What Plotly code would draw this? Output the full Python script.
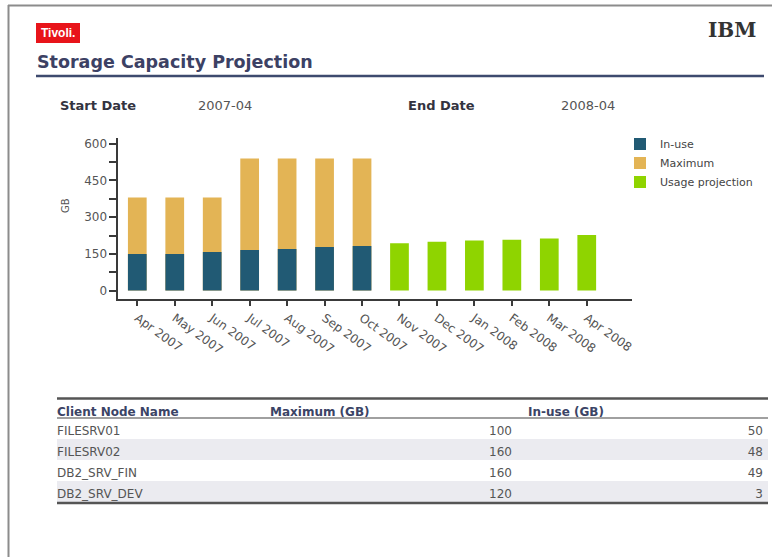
import plotly.graph_objects as go

# ---------------- data ----------------
MONTHS = ["Apr 2007", "May 2007", "Jun 2007", "Jul 2007", "Aug 2007", "Sep 2007",
          "Oct 2007", "Nov 2007", "Dec 2007", "Jan 2008", "Feb 2008", "Mar 2008",
          "Apr 2008"]
ACTUAL_MONTHS = MONTHS[:7]
PROJ_MONTHS = MONTHS[7:]
IN_USE = [150, 150, 158, 166, 170, 178, 182]
MAXIMUM = [380, 380, 380, 540, 540, 540, 540]
PROJECTION = [193, 200, 205, 208, 213, 227]
Y_TICKVALS = [0, 75, 150, 225, 300, 375, 450, 525, 600]
Y_TICKTEXT = ["0", "", "150", "", "300", "", "450", "", "600"]

TABLE_HEADERS = ["Client Node Name", "Maximum (GB)", "In-use (GB)"]
NODE_NAMES = ["FILESRV01", "FILESRV02", "DB2_SRV_FIN", "DB2_SRV_DEV"]
NODE_MAX = [100, 160, 160, 120]
NODE_INUSE = [50, 48, 49, 3]

TITLE = "Storage Capacity Projection"
START_LABEL, START_DATE = "Start Date", "2007-04"
END_LABEL, END_DATE = "End Date", "2008-04"

# ---------------- layout helpers ----------------
W, H = 779, 557


def px(x):
    return x / W


def py(y):
    return 1 - y / H


FONT = "DejaVu Sans"
AXIS_COL = "#3a3a3a"
XR = [-0.523, 13.2]
YR = [-33, 622]

fig = go.Figure()
fig.add_trace(go.Bar(x=ACTUAL_MONTHS, y=MAXIMUM, name="Maximum", width=0.5,
                     marker=dict(color="#E3B455", line=dict(width=0)), legendrank=2))
fig.add_trace(go.Bar(x=ACTUAL_MONTHS, y=IN_USE, name="In-use", width=0.5,
                     marker=dict(color="#215A74", line=dict(width=0)), legendrank=1))
fig.add_trace(go.Bar(x=PROJ_MONTHS, y=PROJECTION, name="Usage projection", width=0.5,
                     marker=dict(color="#8FD400", line=dict(width=0)), legendrank=3))

# table geometry (pixels)
T_TOP, HDR_H, ROW_H = 399, 19, 21
T_LEFT, T_RIGHT = 57, 768
n_rows = len(NODE_NAMES)
T_BOTTOM = T_TOP + HDR_H + ROW_H * n_rows

fig.add_trace(go.Table(
    domain=dict(x=[px(49), px(771)], y=[py(T_BOTTOM + 1), py(T_TOP)]),
    columnwidth=[213, 258, 251],
    header=dict(values=TABLE_HEADERS, align=["left", "left", "left"],
                font=dict(family=FONT, size=12, color="#3B4466", weight="bold"),
                fill_color="rgba(0,0,0,0)", line=dict(width=0), height=HDR_H),
    cells=dict(values=[NODE_NAMES, NODE_MAX, NODE_INUSE],
               align=["left", "right", "right"],
               font=dict(family=FONT, size=12, color="#555555"),
               fill_color="rgba(0,0,0,0)", line=dict(width=0), height=ROW_H),
))

fig.update_layout(
    width=W, height=H,
    margin=dict(l=0, r=0, t=0, b=0),
    paper_bgcolor="white", plot_bgcolor="white",
    barmode="overlay",
    showlegend=True,
    legend=dict(x=px(620), y=py(129.5), xanchor="left", yanchor="top",
                font=dict(family=FONT, size=11, color="#444444"),
                bgcolor="rgba(0,0,0,0)", traceorder="normal"),
    xaxis=dict(domain=[px(117.7), px(631.7)], anchor="y", type="category",
               categoryorder="array", categoryarray=MONTHS, range=XR,
               showline=True, linecolor=AXIS_COL, linewidth=1.5,
               ticks="outside", ticklen=6, tickwidth=1.5, tickcolor=AXIS_COL,
               tickangle=36, tickfont=dict(family=FONT, size=12, color="#555555"),
               showgrid=False, zeroline=False, automargin=False, fixedrange=True),
    yaxis=dict(domain=[py(298.7), py(138.3)], anchor="x", range=YR,
               tickmode="array", tickvals=Y_TICKVALS, ticktext=Y_TICKTEXT,
               showline=True, linecolor=AXIS_COL, linewidth=1.5,
               ticks="outside", ticklen=6.5, tickwidth=1.5, tickcolor=AXIS_COL,
               tickfont=dict(family=FONT, size=12, color="#555555"),
               showgrid=False, zeroline=False, automargin=False, fixedrange=True),
    xaxis2=dict(overlaying="x", anchor="y", side="bottom", type="linear", range=XR,
                tickmode="array", tickvals=list(range(len(MONTHS))),
                showticklabels=False, ticks="inside", ticklen=4, tickwidth=1.5,
                tickcolor=AXIS_COL, showline=False, showgrid=False, zeroline=False,
                automargin=False, fixedrange=True),
    yaxis2=dict(overlaying="y", anchor="x", side="left", range=YR,
                tickmode="array", tickvals=Y_TICKVALS, showticklabels=False,
                ticks="inside", ticklen=4, tickwidth=1.5, tickcolor=AXIS_COL,
                showline=False, showgrid=False, zeroline=False,
                automargin=False, fixedrange=True),
)

shapes = [
    # outer frame (left + top)
    dict(type="line", x0=px(8.5), x1=px(8.5), y0=py(5), y1=py(557),
         line=dict(color="#8C8C8C", width=2)),
    dict(type="line", x0=px(8), x1=px(772), y0=py(5.5), y1=py(5.5),
         line=dict(color="#8C8C8C", width=2)),
    # Tivoli badge
    dict(type="rect", x0=px(36), x1=px(80), y0=py(43), y1=py(23),
         fillcolor="#E8141A", line=dict(width=0)),
    # title underline
    dict(type="line", x0=px(36), x1=px(764), y0=py(76), y1=py(76),
         line=dict(color="#3D4A6E", width=2.5)),
]
# zebra stripes behind alternate table rows
for i in range(n_rows):
    if i % 2 == 1:
        y0 = T_TOP + HDR_H + ROW_H * i
        shapes.append(dict(type="rect", x0=px(T_LEFT), x1=px(T_RIGHT),
                           y0=py(y0 + ROW_H), y1=py(y0), layer="below",
                           fillcolor="#EBEBF0", line=dict(width=0)))
# table rules
shapes += [
    dict(type="line", x0=px(T_LEFT), x1=px(T_RIGHT), y0=py(T_TOP - 0.5), y1=py(T_TOP - 0.5),
         line=dict(color="#555555", width=2.5)),
    dict(type="line", x0=px(T_LEFT), x1=px(T_RIGHT), y0=py(T_TOP + HDR_H), y1=py(T_TOP + HDR_H),
         line=dict(color="#A0A0A0", width=2)),
    dict(type="line", x0=px(T_LEFT), x1=px(T_RIGHT), y0=py(T_BOTTOM + 1), y1=py(T_BOTTOM + 1),
         line=dict(color="#555555", width=2.5)),
]
for s in shapes:
    s.update(xref="paper", yref="paper")

annotations = [
    dict(text="Tivoli.", x=px(58), y=py(33), xanchor="center", yanchor="middle",
         font=dict(family="Liberation Sans", size=12, color="white", weight="bold")),
    dict(text="IBM", x=px(732), y=py(30), xanchor="center", yanchor="middle",
         font=dict(family="DejaVu Serif", size=20, color="#333333", weight="bold")),
    dict(text=TITLE, x=px(35), y=py(62), xanchor="left", yanchor="middle",
         font=dict(family=FONT, size=17.5, color="#3C4164", weight="bold")),
    dict(text=START_LABEL, x=px(58), y=py(105), xanchor="left", yanchor="middle",
         font=dict(family=FONT, size=13, color="#333340", weight="bold")),
    dict(text=START_DATE, x=px(196), y=py(105), xanchor="left", yanchor="middle",
         font=dict(family=FONT, size=13, color="#555555")),
    dict(text=END_LABEL, x=px(406), y=py(105), xanchor="left", yanchor="middle",
         font=dict(family=FONT, size=13, color="#333340", weight="bold")),
    dict(text=END_DATE, x=px(559), y=py(105), xanchor="left", yanchor="middle",
         font=dict(family=FONT, size=13, color="#555555")),
    dict(text="GB", x=px(65), y=py(206), xanchor="center", yanchor="middle", textangle=-90,
         font=dict(family=FONT, size=10, color="#555555")),
]
for a in annotations:
    a.update(xref="paper", yref="paper", showarrow=False)

fig.update_layout(shapes=shapes, annotations=annotations)
fig.write_html("out.html", config={"displayModeBar": False},
               post_script="document.body.style.margin='0px';document.body.style.overflow='hidden';")
